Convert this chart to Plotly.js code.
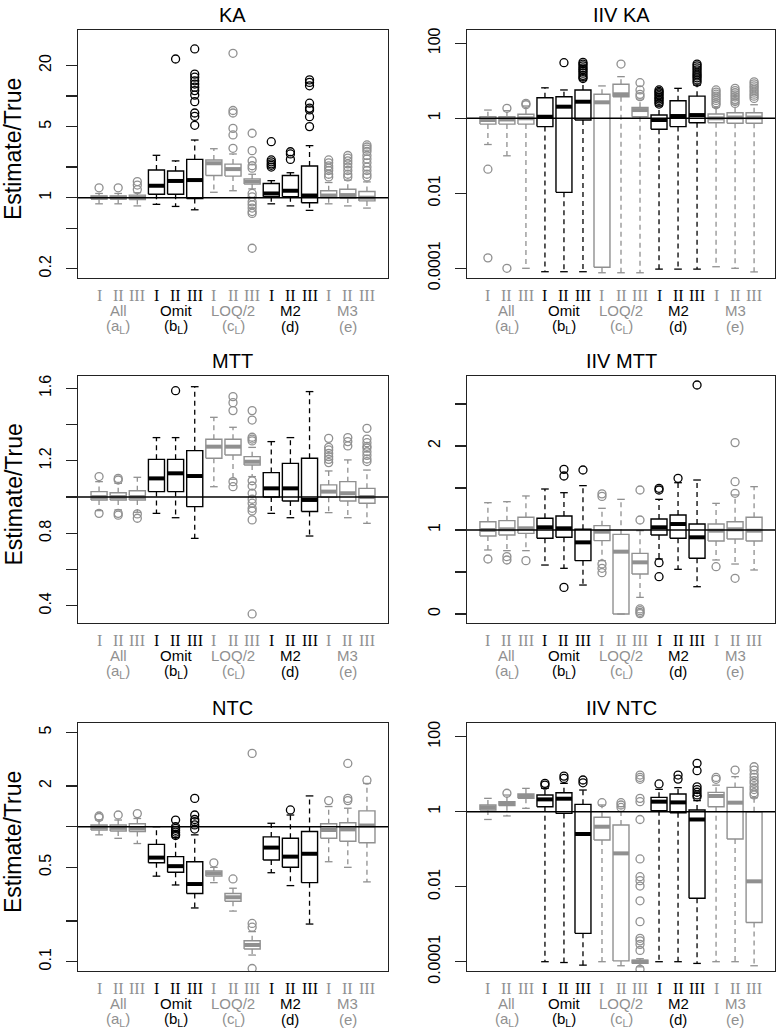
<!DOCTYPE html>
<html><head><meta charset="utf-8">
<script src="https://cdn.plot.ly/plotly-3.0.1.min.js"></script>
<style>body{margin:0;background:#fff}#chart{width:777px;height:1030px}</style>
</head><body><div id="chart"></div><script>
// ---------- categories ----------
const groupNames = ['All','Omit','LOQ/2','M2','M3'];
const groupSubs  = ['(a<sub>L</sub>)','(b<sub>L</sub>)','(c<sub>L</sub>)','(d)','(e)'];
const levels     = ['I','II','III'];
const groupIsBlack = [false,true,false,true,false];

// ---------- KA ----------
const ka_lo  = [0.87,0.87,0.83, 0.86,0.82,0.76, 1.13,1.17,1.22, 0.87,0.83,0.75, 0.87,0.83,0.79];
const ka_q1  = [0.97,0.97,0.96, 1.08,1.08,0.98, 1.65,1.63,1.36, 1.02,1.02,0.89, 1.00,0.99,0.93];
const ka_med = [1.00,1.00,1.00, 1.31,1.46,1.49, 2.18,1.91,1.44, 1.10,1.17,1.05, 1.05,1.06,1.00];
const ka_q3  = [1.04,1.04,1.06, 1.87,1.83,2.38, 2.35,2.14,1.53, 1.38,1.65,2.05, 1.17,1.21,1.15];
const ka_hi  = [1.10,1.10,1.12, 2.61,2.30,3.69, 3.03,2.69,1.70, 1.47,1.76,3.25, 1.41,1.49,1.43];
const ka_out = [[1.25],[1.25],[1.44,1.33,1.2],
  [],[23.1],[29,16.4,15.3,14.1,13.1,12.2,11.3,10.2,8.8,6.8,6.3,5.15],
  [],[26.3,7.2,6.8,4.8,4.14,3.06],[4.3,2.9,2.3,2.06,1.95,1.1,1.02,0.91,0.85,0.79,0.73,0.70,0.318],
  [3.55,2.35,2.25,2.15,2.08,2.0],[2.83,2.69,2.38],[14.4,13.6,12.6,8.5,7.6,7.3,6.26,5.0],
  [2.35,2.2,2.05,1.95,1.85,1.7,1.6],[2.6,2.45,2.3,2.15,2.0,1.85,1.7,1.6],[3.3,3.15,3.0,2.85,2.6,2.4,2.2,2.0,1.85,1.7,1.6]];

// ---------- IIV KA ----------
const iivka_lo  = [0.2,0.1,1e-4, 8.1e-5,8.1e-5,8.1e-5, 7.6e-5,7.6e-5,7.6e-5, 9.5e-5,9.5e-5,9.5e-5, 1.1e-4,1.0e-4,8e-5];
const iivka_q1  = [0.7,0.7,0.7, 0.6,0.0106,0.9, 1.07e-4,3.77,1.1, 0.51,0.6,0.76, 0.76,0.74,0.74];
const iivka_med = [0.9,0.93,1.0, 1.1,2.04,2.77, 2.67,4.37,1.66, 0.9,1.15,1.22, 1.0,1.05,1.05];
const iivka_q3  = [1.1,1.1,1.28, 3.54,3.77,5.7, 4.37,8.1,1.96, 1.22,2.95,3.9, 1.3,1.41,1.41];
const iivka_hi  = [1.66,1.6,2.13, 6.5,5.7,10.5, 7.3,12.9,3.27, 2.13,6.3,7.7, 1.96,2.4,2.3];
const iivka_out = [[0.044,1.9e-4],[1.85,1e-4],[2.5,2.3],
  [],[30.4],[31,28,25,22,20,18,16,14,12.5,11.5],
  [],[28],[8.9,5.7,4.37,3.77],
  [5.7,5.2,4.8,4.4,4.0,3.6,3.3,3.0,2.7,2.4],[],[28,25,22,19.5,17,15,13.5,12,10.5,9.2],
  [5.7,5.0,4.4,3.9,3.4,3.0,2.6,2.3],[6.3,5.5,4.8,4.2,3.7,3.2,2.8,2.5],[9.4,8.3,7.3,6.5,5.7,5.0,4.4,3.9,3.4]];

// ---------- MTT ----------
const mtt_lo  = [0.925,0.929,0.916, 0.91,0.886,0.772, 1.057,1.098,1.113, 0.91,0.886,0.785, 0.914,0.886,0.855];
const mtt_q1  = [0.984,0.984,0.984, 1.03,1.03,0.947, 1.214,1.232,1.177, 1.0,0.978,0.92, 0.999,0.978,0.966];
const mtt_med = [1.0,1.0,1.0, 1.103,1.131,1.116, 1.278,1.278,1.195, 1.048,1.048,0.984, 1.03,1.021,1.0];
const mtt_q3  = [1.03,1.024,1.035, 1.208,1.208,1.256, 1.319,1.319,1.223, 1.135,1.186,1.214, 1.067,1.085,1.048];
const mtt_hi  = [1.085,1.076,1.109, 1.328,1.328,1.609, 1.44,1.385,1.274, 1.306,1.328,1.582, 1.144,1.205,1.149];
const mtt_out = [[1.113,0.91],[1.103,1.094,0.91,0.90],[0.907,0.883],
  [],[1.587],[],
  [],[1.554,1.521,1.477,1.085,1.057],[1.477,1.425,1.33,1.32,1.31,1.09,1.061,1.021,0.988,0.966,0.938,0.923,0.874,0.355],
  [],[],[],
  [1.324,1.274,1.26,1.241,1.223,1.208,1.19],[1.328,1.306,1.282],[1.379,1.32,1.30,1.28,1.27,1.25,1.23,1.21,1.196]];

// ---------- IIV MTT ----------
const iivmtt_lo  = [0.762,0.754,0.754, 0.583,0.544,0.345, 0.635,0.0,0.198, 0.655,0.532,0.325, 0.643,0.595,0.524];
const iivmtt_q1  = [0.929,0.94,0.96, 0.901,0.913,0.635, 0.873,0.0,0.476, 0.94,0.901,0.663, 0.869,0.893,0.869];
const iivmtt_med = [1.0,1.008,1.02, 1.032,1.02,0.853, 0.98,0.742,0.615, 1.032,1.071,0.913, 0.992,1.008,0.992];
const iivmtt_q3  = [1.099,1.111,1.151, 1.139,1.167,1.008, 1.052,0.948,0.722, 1.131,1.179,1.071, 1.071,1.099,1.151];
const iivmtt_hi  = [1.325,1.337,1.405, 1.488,1.444,1.528, 1.258,1.365,0.992, 1.365,1.563,1.595, 1.317,1.417,1.516];
const iivmtt_out = [[0.655],[0.683,0.643],[0.635],
  [],[1.722,1.643,0.317],[1.714],
  [1.43,1.40,0.595,0.544,0.492],[],[1.476,1.119,0.06,0.04,0.02,0.005],
  [1.496,1.476,0.611,0.444],[1.615],[2.726],
  [0.563],[2.04,1.575,1.437,0.425],[]];

// ---------- NTC ----------
const ntc_lo  = [0.87,0.82,0.75, 0.43,0.37,0.25, 0.385,0.237,0.112, 0.456,0.366,0.19, 0.55,0.50,0.39];
const ntc_q1  = [0.945,0.93,0.92, 0.54,0.46,0.32, 0.43,0.28,0.124, 0.566,0.50,0.385, 0.82,0.78,0.76];
const ntc_med = [0.99,0.98,0.97, 0.59,0.51,0.376, 0.45,0.30,0.133, 0.70,0.60,0.63, 0.945,0.955,1.02];
const ntc_q3  = [1.03,1.03,1.05, 0.74,0.60,0.55, 0.47,0.32,0.143, 0.84,0.82,0.92, 1.05,1.07,1.31];
const ntc_hi  = [1.12,1.12,1.15, 1.0,0.83,0.87, 0.5,0.35,0.167, 1.06,1.22,1.69, 1.41,1.37,2.09];
const ntc_out = [[1.2,1.17],[1.22],[1.25],
  [],[1.12,1.0,0.97,0.94,0.91,0.88,0.86],[1.62,1.22,1.13,1.09,1.03,0.96],
  [0.54],[0.41],[3.49,0.192,0.18,0.089],
  [],[1.33],[],
  [1.56],[2.94,1.62,1.56],[2.21]];

// ---------- IIV NTC ----------
const iivntc_lo  = [0.62,0.77,1.23, 1e-4,9.5e-5,8.1e-5, 1e-4,7.8e-5,7.3e-5, 1e-4,1e-4,9e-5, 1e-4,1e-4,7.8e-5];
const iivntc_q1  = [1.11,1.45,2.27, 1.36,0.9,5.7e-4, 0.176,1.05e-4,9e-5, 1.06,0.94,0.0049, 1.36,0.187,0.00111];
const iivntc_med = [1.3,1.67,2.62, 2.13,2.22,0.254, 0.398,0.0774,1e-4, 1.85,1.77,0.62, 2.62,1.74,0.0139];
const iivntc_q3  = [1.51,1.85,2.96, 2.78,3.21,1.57, 0.71,0.44,1.1e-4, 2.41,2.96,1.11, 3.28,4.45,1.0];
const iivntc_hi  = [2.27,2.78,4.19, 4.19,5.7,3.78, 1.51,1.36,1.2e-4, 3.94,4.37,1.97, 5.1,8.6,2.36];
const iivntc_out = [[],[3.1],[],
  [5.7,5.1],[8.9,7.7],[7.0,5.9],
  [1.74],[1.74,1.51,1.3],[9.5,8.2,7.3,2.27,1.85,0.62,0.055,0.0185,0.0145,0.0104,0.0042,0.00117,4.2e-4,3.6e-4,2.9e-4,2e-4,6.3e-5],
  [5.5],[9.5,7.4],[19.5,12.4,4.6,3.9,3.3,2.8,2.5],
  [8.2,7.3],[12.9],[15.8,12.9,9.9,8.2,6.7,5.7,4.6,3.9,3.2,2.8]];

// ---------- tick labels (labelled) and unlabelled ticks ----------
const ka_ticks = [0.2,1,5,20];          const ka_tickText = ['0.2','1','5','20'];   const ka_minor = [0.5,2,10];
const iiv_ticks = [1e-4,0.01,1,100];    const iiv_tickText = ['0.0001','0.01','1','100'];
const mtt_ticks = [0.4,0.8,1.2,1.6];    const mtt_tickText = ['0.4','0.8','1.2','1.6']; const mtt_minor = [0.6,1.0,1.4];
const iivmtt_ticks = [0,1,2];           const iivmtt_tickText = ['0','1','2'];      const iivmtt_minor = [0.5,1.5,2.5];
const ntc_ticks = [0.1,0.5,2,5];        const ntc_tickText = ['0.1','0.5','2','5']; const ntc_minor = [0.2,1];

const panels = [
 {title:'KA', type:'log', range:[-0.79,1.649], tv:ka_ticks, tt:ka_tickText, mv:ka_minor, lo:ka_lo,q1:ka_q1,med:ka_med,q3:ka_q3,hi:ka_hi,out:ka_out},
 {title:'IIV KA', type:'log', range:[-4.259,2.355], tv:iiv_ticks, tt:iiv_tickText, mv:[], lo:iivka_lo,q1:iivka_q1,med:iivka_med,q3:iivka_q3,hi:iivka_hi,out:iivka_out},
 {title:'MTT', type:'linear', range:[0.305,1.668], tv:mtt_ticks, tt:mtt_tickText, mv:mtt_minor, lo:mtt_lo,q1:mtt_q1,med:mtt_med,q3:mtt_q3,hi:mtt_hi,out:mtt_out},
 {title:'IIV MTT', type:'linear', range:[-0.107,2.833], tv:iivmtt_ticks, tt:iivmtt_tickText, mv:iivmtt_minor, lo:iivmtt_lo,q1:iivmtt_q1,med:iivmtt_med,q3:iivmtt_q3,hi:iivmtt_hi,out:iivmtt_out},
 {title:'NTC', type:'log', range:[-1.069,0.768], tv:ntc_ticks, tt:ntc_tickText, mv:ntc_minor, lo:ntc_lo,q1:ntc_q1,med:ntc_med,q3:ntc_q3,hi:ntc_hi,out:ntc_out},
 {title:'IIV NTC', type:'log', range:[-4.248,2.365], tv:iiv_ticks, tt:iiv_tickText, mv:[], lo:iivntc_lo,q1:iivntc_q1,med:iivntc_med,q3:iivntc_q3,hi:iivntc_hi,out:iivntc_out}
];

// ---------- layout geometry ----------
const W=777, H=1030;
const frames=[[78,388,30,278],[467,775,30,278],[78,388,376,623],[467,775,376,623],[78,388,723,971],[467,775,723,971]];
const GRAY='#909090', BLACK='#000000', FRAME='#222222';
const SANS='"Liberation Sans", Arial, Helvetica, sans-serif';
const SERIF='"Liberation Serif", "Times New Roman", serif';
const HW=0.42, SW=0.2;

const traces=[], annotations=[];
const layout={width:W,height:H,margin:{l:0,r:0,t:0,b:0},paper_bgcolor:'#fff',plot_bgcolor:'#fff',
  showlegend:false,font:{family:SANS,color:'#000'},annotations:annotations};

panels.forEach((p,k)=>{
  const ax = k===0?'':String(k+1);
  const xa='x'+ax, ya='y'+ax;
  const [L,R,T,B]=frames[k];
  layout['xaxis'+ax]={domain:[L/W,R/W],range:[-0.1,16.1],showline:true,mirror:true,linecolor:FRAME,linewidth:1.3,
    showticklabels:false,ticks:'',showgrid:false,zeroline:false,anchor:ya,fixedrange:true};
  const yax={domain:[1-B/H,1-T/H],type:p.type,range:p.range,tickmode:'array',tickvals:p.tv,ticktext:p.tt,
    ticks:'outside',ticklen:11,tickwidth:1.3,tickcolor:FRAME,tickangle:-90,tickfont:{size:16,family:SANS,color:'#000'},
    ticklabelstandoff:8,showline:true,mirror:true,linecolor:FRAME,linewidth:1.3,showgrid:false,zeroline:false,anchor:xa,fixedrange:true};
  if(p.mv.length){
    yax.minor={tickmode:'array',tickvals:p.mv,ticks:'outside',ticklen:11,tickwidth:1.3,tickcolor:FRAME,showgrid:false};
  }
  layout['yaxis'+ax]=yax;

  [false,true].forEach(black=>{
    const col = black?BLACK:GRAY;
    const bx=[],by=[],mx=[],my=[],wx=[],wy=[],sx=[],sy=[],ox=[],oy=[];
    for(let i=0;i<15;i++){
      if(groupIsBlack[Math.floor(i/3)]!==black) continue;
      const c=i+1;
      wx.push(c,c,null,c,c,null); wy.push(p.q3[i],p.hi[i],null,p.q1[i],p.lo[i],null);
      sx.push(c-SW,c+SW,null,c-SW,c+SW,null); sy.push(p.hi[i],p.hi[i],null,p.lo[i],p.lo[i],null);
      bx.push(c-HW,c+HW,c+HW,c-HW,c-HW,null); by.push(p.q1[i],p.q1[i],p.q3[i],p.q3[i],p.q1[i],null);
      mx.push(c-HW,c+HW,null); my.push(p.med[i],p.med[i],null);
      p.out[i].forEach(v=>{ox.push(c); oy.push(v);});
    }
    const base={xaxis:xa,yaxis:ya,hoverinfo:'skip'};
    traces.push(Object.assign({type:'scatter',mode:'lines',x:wx,y:wy,line:{color:col,width:1.3,dash:'5px,4px'}},base));
    traces.push(Object.assign({type:'scatter',mode:'lines',x:sx,y:sy,line:{color:col,width:1.3}},base));
    traces.push(Object.assign({type:'scatter',mode:'lines',x:bx,y:by,line:{color:col,width:1.4}},base));
    traces.push(Object.assign({type:'scatter',mode:'lines',x:mx,y:my,line:{color:col,width:4}},base));
    traces.push(Object.assign({type:'scatter',mode:'markers',x:ox,y:oy,marker:{symbol:'circle-open',size:8,color:col,line:{width:1.3,color:col}}},base));
  });
  traces.push({type:'scatter',mode:'lines',x:[-0.1,16.1],y:[1,1],xaxis:xa,yaxis:ya,hoverinfo:'skip',line:{color:'#000',width:1.5}});

  // x labels
  for(let i=0;i<15;i++){
    const g=Math.floor(i/3), col=groupIsBlack[g]?BLACK:GRAY;
    annotations.push({text:levels[i%3],x:i+1,xref:xa,y:1-(B+17)/H,yref:'paper',showarrow:false,xanchor:'center',yanchor:'middle',
      font:{family:SERIF,size:16,color:col}});
  }
  for(let g=0;g<5;g++){
    const col=groupIsBlack[g]?BLACK:GRAY;
    annotations.push({text:groupNames[g],x:3*g+2,xref:xa,y:1-(B+32)/H,yref:'paper',showarrow:false,xanchor:'center',yanchor:'middle',
      font:{family:SANS,size:15,color:col},borderpad:0});
    annotations.push({text:groupSubs[g],x:3*g+2,xref:xa,y:1-(B+48)/H,yref:'paper',showarrow:false,xanchor:'center',yanchor:'middle',
      font:{family:SANS,size:15,color:col},borderpad:0});
  }
  annotations.push({text:p.title,x:(L+R)/2/W,xref:'paper',y:1-(T-15)/H,yref:'paper',showarrow:false,xanchor:'center',yanchor:'middle',
    font:{family:SANS,size:20,color:'#000'}});
  if(k%2===0){
    annotations.push({text:'Estimate/True',x:13/W,xref:'paper',y:1-((T+B)/2-5)/H,yref:'paper',showarrow:false,textangle:-90,
      xanchor:'center',yanchor:'middle',font:{family:SANS,size:23,color:'#000'}});
  }
});

Plotly.newPlot('chart',traces,layout,{staticPlot:true,displayModeBar:false});
</script></body></html>
